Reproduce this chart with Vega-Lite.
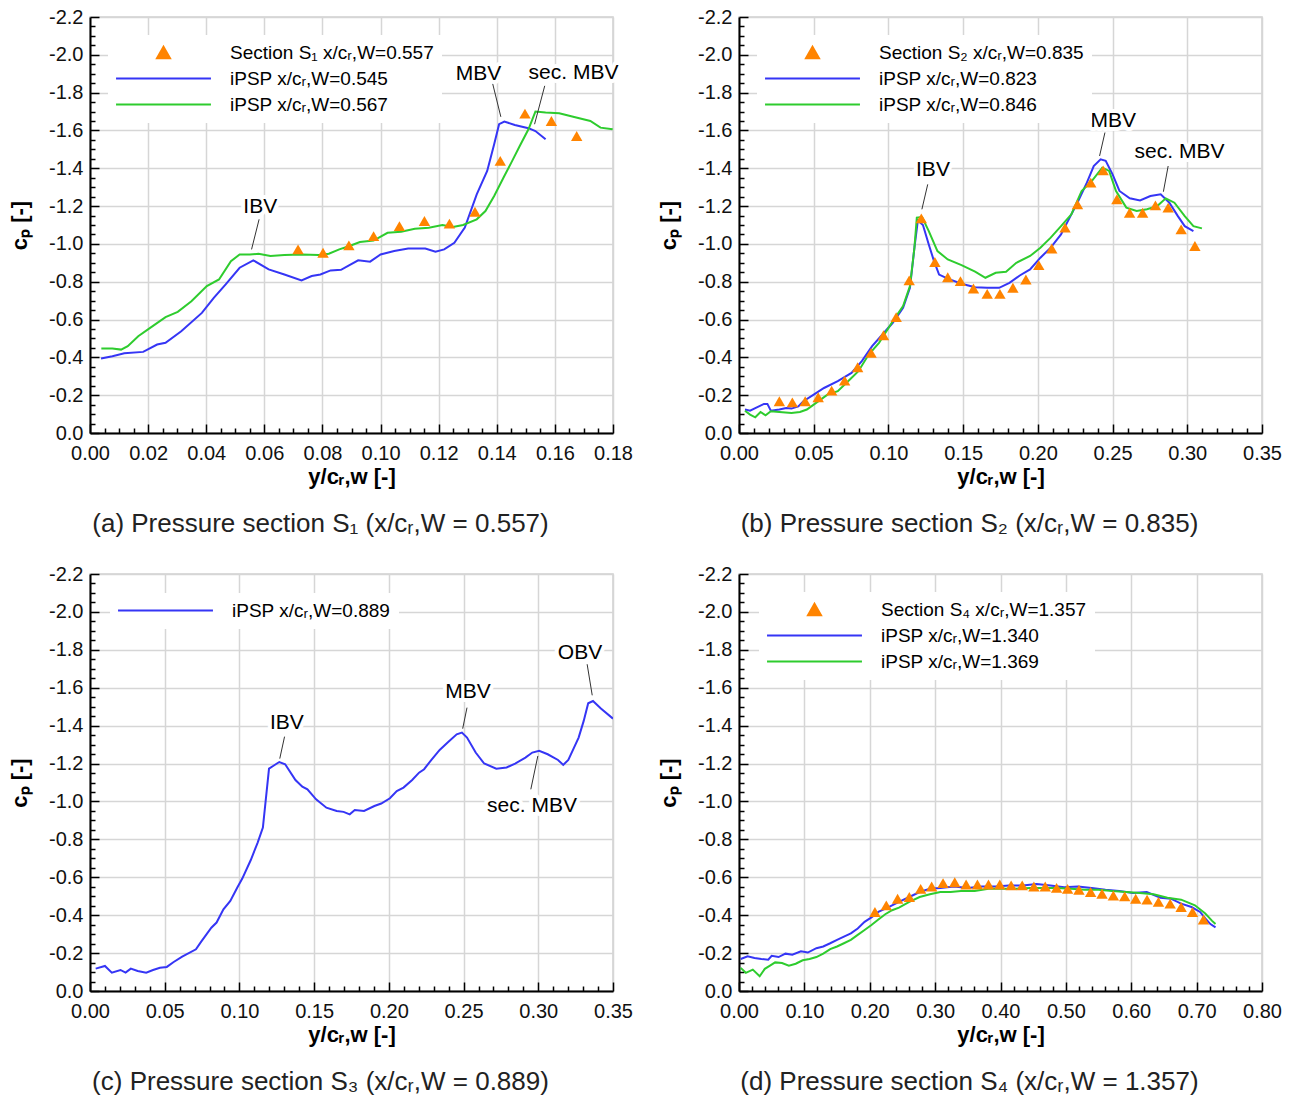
{
  "$schema": "https://vega.github.io/schema/vega-lite/v6.json",
  "background": "white",
  "padding": {"left": 7, "top": 6, "right": 0, "bottom": 0},
  "config": {
    "view": {"stroke": "#d0d0d0", "strokeWidth": 1.5},
    "axis": {
      "labelFont": "Liberation Sans", "labelFontSize": 20, "labelColor": "#111", "labelOverlap": false, "labelFlush": false,
      "titleFont": "Liberation Sans", "titleFontSize": 22, "titleFontWeight": "bold", "titleColor": "#000",
      "tickColor": "#000", "tickWidth": 1.5, "domainColor": "#000", "domainWidth": 2,
      "gridColor": "#d6d6d6", "gridWidth": 1.5
    },
    "title": {"font": "Liberation Sans", "fontSize": 26, "fontWeight": "normal", "color": "#222"},
    "legend": {"labelFont": "Liberation Sans", "labelFontSize": 19, "labelColor": "#000", "labelLimit": 500, "symbolSize": 170, "symbolStrokeWidth": 2, "labelOffset": 95, "rowPadding": 6, "padding": 8, "fillColor": "white", "orient": "none"}
  },
  "resolve": {"scale": {"color": "independent"}, "legend": {"color": "independent"}},
  "datasets": {
    "a_lines": [
      {"s":"B","x":0.0038,"y":-0.394},{"s":"B","x":0.0077,"y":-0.406},{"s":"B","x":0.0118,"y":-0.422},{"s":"B","x":0.0183,"y":-0.429},{"s":"B","x":0.0231,"y":-0.468},{"s":"B","x":0.026,"y":-0.477},{"s":"B","x":0.0314,"y":-0.538},{"s":"B","x":0.0385,"y":-0.635},{"s":"B","x":0.0426,"y":-0.715},{"s":"B","x":0.0467,"y":-0.786},{"s":"B","x":0.0515,"y":-0.874},{"s":"B","x":0.0562,"y":-0.913},{"s":"B","x":0.0615,"y":-0.865},{"s":"B","x":0.0669,"y":-0.838},{"s":"B","x":0.0728,"y":-0.807},{"s":"B","x":0.0763,"y":-0.83},{"s":"B","x":0.0793,"y":-0.838},{"s":"B","x":0.0828,"y":-0.86},{"s":"B","x":0.0864,"y":-0.863},{"s":"B","x":0.0893,"y":-0.888},{"s":"B","x":0.0923,"y":-0.913},{"s":"B","x":0.0964,"y":-0.906},{"s":"B","x":0.1,"y":-0.944},{"s":"B","x":0.1047,"y":-0.962},{"s":"B","x":0.1095,"y":-0.976},{"s":"B","x":0.1154,"y":-0.976},{"s":"B","x":0.1189,"y":-0.959},{"s":"B","x":0.1219,"y":-0.971},{"s":"B","x":0.1254,"y":-1.006},{"s":"B","x":0.129,"y":-1.086},{"s":"B","x":0.1331,"y":-1.262},{"s":"B","x":0.1367,"y":-1.386},{"s":"B","x":0.1391,"y":-1.527},{"s":"B","x":0.1408,"y":-1.633},{"s":"B","x":0.1426,"y":-1.647},{"s":"B","x":0.1462,"y":-1.629},{"s":"B","x":0.1509,"y":-1.612},{"s":"B","x":0.1533,"y":-1.597},{"s":"B","x":0.1568,"y":-1.553},
      {"s":"C","x":0.0039,"y":-0.447},{"s":"C","x":0.0077,"y":-0.447},{"s":"C","x":0.0107,"y":-0.441},{"s":"C","x":0.013,"y":-0.459},{"s":"C","x":0.0166,"y":-0.512},{"s":"C","x":0.0207,"y":-0.556},{"s":"C","x":0.026,"y":-0.613},{"s":"C","x":0.0302,"y":-0.641},{"s":"C","x":0.0349,"y":-0.697},{"s":"C","x":0.0402,"y":-0.777},{"s":"C","x":0.0444,"y":-0.812},{"s":"C","x":0.0485,"y":-0.909},{"s":"C","x":0.0515,"y":-0.944},{"s":"C","x":0.055,"y":-0.944},{"s":"C","x":0.058,"y":-0.948},{"s":"C","x":0.0621,"y":-0.936},{"s":"C","x":0.0669,"y":-0.941},{"s":"C","x":0.0728,"y":-0.944},{"s":"C","x":0.0787,"y":-0.941},{"s":"C","x":0.0822,"y":-0.948},{"s":"C","x":0.0858,"y":-0.971},{"s":"C","x":0.0893,"y":-0.989},{"s":"C","x":0.0929,"y":-1.01},{"s":"C","x":0.0976,"y":-1.018},{"s":"C","x":0.1024,"y":-1.059},{"s":"C","x":0.1071,"y":-1.064},{"s":"C","x":0.1118,"y":-1.08},{"s":"C","x":0.1166,"y":-1.086},{"s":"C","x":0.1213,"y":-1.1},{"s":"C","x":0.1249,"y":-1.089},{"s":"C","x":0.1284,"y":-1.1},{"s":"C","x":0.1331,"y":-1.13},{"s":"C","x":0.1361,"y":-1.174},{"s":"C","x":0.1391,"y":-1.253},{"s":"C","x":0.1426,"y":-1.359},{"s":"C","x":0.145,"y":-1.43},{"s":"C","x":0.1479,"y":-1.518},{"s":"C","x":0.1509,"y":-1.606},{"s":"C","x":0.1533,"y":-1.7},{"s":"C","x":0.1568,"y":-1.695},{"s":"C","x":0.1615,"y":-1.691},{"s":"C","x":0.1663,"y":-1.672},{"s":"C","x":0.1722,"y":-1.65},{"s":"C","x":0.1757,"y":-1.615},{"s":"C","x":0.1799,"y":-1.606}
    ],
    "a_pts": [
      {"s":"A","x":0.0716,"y":-0.971},{"s":"A","x":0.0802,"y":-0.953},{"s":"A","x":0.0891,"y":-0.992},{"s":"A","x":0.0976,"y":-1.041},{"s":"A","x":0.1065,"y":-1.094},{"s":"A","x":0.1151,"y":-1.121},{"s":"A","x":0.1237,"y":-1.107},{"s":"A","x":0.1325,"y":-1.17},{"s":"A","x":0.1412,"y":-1.439},{"s":"A","x":0.1497,"y":-1.689},{"s":"A","x":0.1588,"y":-1.65},{"s":"A","x":0.1675,"y":-1.571}
    ],
    "a_ann": [
      {"t":"IBV","x":0.0586,"y":-1.195},{"t":"MBV","x":0.1337,"y":-1.901},{"t":"sec. MBV","x":0.1664,"y":-1.905}
    ],
    "a_lead": [
      {"x":0.0582,"y":-1.13,"x2":0.0556,"y2":-0.971},{"x":0.1385,"y":-1.853,"x2":0.1414,"y2":-1.672},{"x":0.1565,"y":-1.836,"x2":0.153,"y2":-1.633}
    ],
    "b_lines": [
      {"s":"B","x":0.004,"y":-0.124},{"s":"B","x":0.0074,"y":-0.118},{"s":"B","x":0.0109,"y":-0.132},{"s":"B","x":0.0167,"y":-0.154},{"s":"B","x":0.019,"y":-0.154},{"s":"B","x":0.0213,"y":-0.118},{"s":"B","x":0.027,"y":-0.124},{"s":"B","x":0.0316,"y":-0.132},{"s":"B","x":0.0351,"y":-0.129},{"s":"B","x":0.0397,"y":-0.141},{"s":"B","x":0.0431,"y":-0.168},{"s":"B","x":0.05,"y":-0.203},{"s":"B","x":0.0569,"y":-0.238},{"s":"B","x":0.0661,"y":-0.274},{"s":"B","x":0.0753,"y":-0.318},{"s":"B","x":0.0822,"y":-0.38},{"s":"B","x":0.0891,"y":-0.459},{"s":"B","x":0.096,"y":-0.521},{"s":"B","x":0.1029,"y":-0.583},{"s":"B","x":0.1098,"y":-0.662},{"s":"B","x":0.1144,"y":-0.768},{"s":"B","x":0.1174,"y":-0.98},{"s":"B","x":0.1197,"y":-1.124},{"s":"B","x":0.1231,"y":-1.1},{"s":"B","x":0.127,"y":-0.997},{"s":"B","x":0.1305,"y":-0.909},{"s":"B","x":0.1339,"y":-0.838},{"s":"B","x":0.1397,"y":-0.816},{"s":"B","x":0.1489,"y":-0.789},{"s":"B","x":0.158,"y":-0.771},{"s":"B","x":0.1661,"y":-0.768},{"s":"B","x":0.1741,"y":-0.768},{"s":"B","x":0.181,"y":-0.794},{"s":"B","x":0.1879,"y":-0.833},{"s":"B","x":0.1948,"y":-0.865},{"s":"B","x":0.2017,"y":-0.927},{"s":"B","x":0.2086,"y":-0.98},{"s":"B","x":0.2155,"y":-1.05},{"s":"B","x":0.2213,"y":-1.139},{"s":"B","x":0.227,"y":-1.227},{"s":"B","x":0.2328,"y":-1.324},{"s":"B","x":0.2374,"y":-1.412},{"s":"B","x":0.242,"y":-1.447},{"s":"B","x":0.2454,"y":-1.439},{"s":"B","x":0.25,"y":-1.368},{"s":"B","x":0.2546,"y":-1.28},{"s":"B","x":0.2615,"y":-1.241},{"s":"B","x":0.2684,"y":-1.23},{"s":"B","x":0.2753,"y":-1.253},{"s":"B","x":0.2822,"y":-1.262},{"s":"B","x":0.288,"y":-1.218},{"s":"B","x":0.2937,"y":-1.147},{"s":"B","x":0.2983,"y":-1.094},{"s":"B","x":0.3041,"y":-1.068},
      {"s":"C","x":0.004,"y":-0.118},{"s":"C","x":0.0074,"y":-0.097},{"s":"C","x":0.0109,"y":-0.083},{"s":"C","x":0.0144,"y":-0.111},{"s":"C","x":0.0178,"y":-0.094},{"s":"C","x":0.0213,"y":-0.115},{"s":"C","x":0.027,"y":-0.111},{"s":"C","x":0.0351,"y":-0.106},{"s":"C","x":0.0408,"y":-0.111},{"s":"C","x":0.0454,"y":-0.124},{"s":"C","x":0.05,"y":-0.15},{"s":"C","x":0.0592,"y":-0.203},{"s":"C","x":0.0661,"y":-0.221},{"s":"C","x":0.073,"y":-0.274},{"s":"C","x":0.0799,"y":-0.327},{"s":"C","x":0.0868,"y":-0.415},{"s":"C","x":0.0937,"y":-0.477},{"s":"C","x":0.1029,"y":-0.591},{"s":"C","x":0.1098,"y":-0.671},{"s":"C","x":0.1144,"y":-0.777},{"s":"C","x":0.1174,"y":-0.98},{"s":"C","x":0.119,"y":-1.139},{"s":"C","x":0.1225,"y":-1.142},{"s":"C","x":0.127,"y":-1.068},{"s":"C","x":0.1328,"y":-0.962},{"s":"C","x":0.1397,"y":-0.918},{"s":"C","x":0.1489,"y":-0.888},{"s":"C","x":0.158,"y":-0.853},{"s":"C","x":0.1649,"y":-0.821},{"s":"C","x":0.1718,"y":-0.847},{"s":"C","x":0.1787,"y":-0.853},{"s":"C","x":0.1856,"y":-0.9},{"s":"C","x":0.1948,"y":-0.936},{"s":"C","x":0.2017,"y":-0.98},{"s":"C","x":0.2086,"y":-1.033},{"s":"C","x":0.2155,"y":-1.094},{"s":"C","x":0.2224,"y":-1.156},{"s":"C","x":0.2293,"y":-1.28},{"s":"C","x":0.2362,"y":-1.333},{"s":"C","x":0.2431,"y":-1.403},{"s":"C","x":0.2477,"y":-1.386},{"s":"C","x":0.2523,"y":-1.28},{"s":"C","x":0.2592,"y":-1.192},{"s":"C","x":0.2661,"y":-1.174},{"s":"C","x":0.273,"y":-1.183},{"s":"C","x":0.2799,"y":-1.2},{"s":"C","x":0.2856,"y":-1.241},{"s":"C","x":0.2914,"y":-1.218},{"s":"C","x":0.2983,"y":-1.147},{"s":"C","x":0.3041,"y":-1.094},{"s":"C","x":0.3098,"y":-1.082}
    ],
    "b_pts": [
      {"s":"A","x":0.027,"y":-0.168},{"s":"A","x":0.0357,"y":-0.162},{"s":"A","x":0.0443,"y":-0.168},{"s":"A","x":0.053,"y":-0.189},{"s":"A","x":0.062,"y":-0.224},{"s":"A","x":0.0707,"y":-0.277},{"s":"A","x":0.0794,"y":-0.348},{"s":"A","x":0.0884,"y":-0.424},{"s":"A","x":0.0967,"y":-0.517},{"s":"A","x":0.1052,"y":-0.613},{"s":"A","x":0.1139,"y":-0.807},{"s":"A","x":0.122,"y":-1.135},{"s":"A","x":0.1311,"y":-0.904},{"s":"A","x":0.1397,"y":-0.824},{"s":"A","x":0.1482,"y":-0.803},{"s":"A","x":0.1569,"y":-0.764},{"s":"A","x":0.1661,"y":-0.736},{"s":"A","x":0.1746,"y":-0.736},{"s":"A","x":0.1833,"y":-0.768},{"s":"A","x":0.192,"y":-0.812},{"s":"A","x":0.2006,"y":-0.888},{"s":"A","x":0.2093,"y":-0.976},{"s":"A","x":0.2182,"y":-1.086},{"s":"A","x":0.2265,"y":-1.209},{"s":"A","x":0.2354,"y":-1.324},{"s":"A","x":0.2437,"y":-1.389},{"s":"A","x":0.2529,"y":-1.236},{"s":"A","x":0.2614,"y":-1.165},{"s":"A","x":0.2701,"y":-1.165},{"s":"A","x":0.2787,"y":-1.204},{"s":"A","x":0.2872,"y":-1.192},{"s":"A","x":0.2959,"y":-1.077},{"s":"A","x":0.3051,"y":-0.989}
    ],
    "b_ann": [
      {"t":"IBV","x":0.1298,"y":-1.391},{"t":"MBV","x":0.2505,"y":-1.65},{"t":"sec. MBV","x":0.2948,"y":-1.485}
    ],
    "b_lead": [
      {"x":0.1263,"y":-1.315,"x2":0.1224,"y2":-1.183},{"x":0.2449,"y":-1.589,"x2":0.2413,"y2":-1.465},{"x":0.2872,"y":-1.412,"x2":0.284,"y2":-1.276}
    ],
    "c_lines": [
      {"s":"B","x":0.0038,"y":-0.118},{"s":"B","x":0.01,"y":-0.132},{"s":"B","x":0.0146,"y":-0.097},{"s":"B","x":0.0204,"y":-0.111},{"s":"B","x":0.0238,"y":-0.097},{"s":"B","x":0.0273,"y":-0.118},{"s":"B","x":0.0319,"y":-0.106},{"s":"B","x":0.0376,"y":-0.097},{"s":"B","x":0.0422,"y":-0.111},{"s":"B","x":0.0468,"y":-0.123},{"s":"B","x":0.0514,"y":-0.127},{"s":"B","x":0.056,"y":-0.153},{"s":"B","x":0.0617,"y":-0.181},{"s":"B","x":0.0709,"y":-0.22},{"s":"B","x":0.0743,"y":-0.259},{"s":"B","x":0.0812,"y":-0.334},{"s":"B","x":0.0847,"y":-0.361},{"s":"B","x":0.0893,"y":-0.431},{"s":"B","x":0.0939,"y":-0.475},{"s":"B","x":0.0985,"y":-0.545},{"s":"B","x":0.1019,"y":-0.593},{"s":"B","x":0.1076,"y":-0.691},{"s":"B","x":0.1122,"y":-0.783},{"s":"B","x":0.1157,"y":-0.862},{"s":"B","x":0.1198,"y":-1.173},{"s":"B","x":0.1233,"y":-1.191},{"s":"B","x":0.1267,"y":-1.208},{"s":"B","x":0.1306,"y":-1.196},{"s":"B","x":0.1375,"y":-1.113},{"s":"B","x":0.1421,"y":-1.078},{"s":"B","x":0.1455,"y":-1.064},{"s":"B","x":0.1513,"y":-1.011},{"s":"B","x":0.1582,"y":-0.967},{"s":"B","x":0.1651,"y":-0.95},{"s":"B","x":0.1697,"y":-0.945},{"s":"B","x":0.1738,"y":-0.932},{"s":"B","x":0.1772,"y":-0.955},{"s":"B","x":0.1834,"y":-0.95},{"s":"B","x":0.1903,"y":-0.976},{"s":"B","x":0.1949,"y":-0.989},{"s":"B","x":0.2007,"y":-1.017},{"s":"B","x":0.2053,"y":-1.055},{"s":"B","x":0.2098,"y":-1.073},{"s":"B","x":0.2156,"y":-1.113},{"s":"B","x":0.2202,"y":-1.152},{"s":"B","x":0.2236,"y":-1.17},{"s":"B","x":0.2282,"y":-1.217},{"s":"B","x":0.234,"y":-1.272},{"s":"B","x":0.2397,"y":-1.314},{"s":"B","x":0.2454,"y":-1.354},{"s":"B","x":0.2489,"y":-1.363},{"s":"B","x":0.2523,"y":-1.337},{"s":"B","x":0.2581,"y":-1.258},{"s":"B","x":0.2638,"y":-1.2},{"s":"B","x":0.2719,"y":-1.173},{"s":"B","x":0.2788,"y":-1.179},{"s":"B","x":0.2845,"y":-1.2},{"s":"B","x":0.2914,"y":-1.231},{"s":"B","x":0.296,"y":-1.258},{"s":"B","x":0.3006,"y":-1.267},{"s":"B","x":0.3063,"y":-1.249},{"s":"B","x":0.3132,"y":-1.219},{"s":"B","x":0.3167,"y":-1.193},{"s":"B","x":0.3201,"y":-1.219},{"s":"B","x":0.327,"y":-1.337},{"s":"B","x":0.3304,"y":-1.425},{"s":"B","x":0.3334,"y":-1.518},{"s":"B","x":0.3366,"y":-1.53},{"s":"B","x":0.3419,"y":-1.49},{"s":"B","x":0.35,"y":-1.437}
    ],
    "c_ann": [
      {"t":"IBV","x":0.1318,"y":-1.415},{"t":"MBV","x":0.253,"y":-1.576},{"t":"OBV","x":0.3279,"y":-1.783},{"t":"sec. MBV","x":0.2958,"y":-0.974}
    ],
    "c_lead": [
      {"x":0.1302,"y":-1.342,"x2":0.127,"y2":-1.226},{"x":0.2523,"y":-1.495,"x2":0.2494,"y2":-1.384},{"x":0.3327,"y":-1.724,"x2":0.3361,"y2":-1.56},{"x":0.295,"y":-1.064,"x2":0.2997,"y2":-1.24}
    ],
    "d_lines": [
      {"s":"B","x":0.0026,"y":-0.169},{"s":"B","x":0.0132,"y":-0.183},{"s":"B","x":0.0237,"y":-0.174},{"s":"B","x":0.0342,"y":-0.169},{"s":"B","x":0.0447,"y":-0.165},{"s":"B","x":0.05,"y":-0.186},{"s":"B","x":0.0605,"y":-0.179},{"s":"B","x":0.0711,"y":-0.197},{"s":"B","x":0.0816,"y":-0.191},{"s":"B","x":0.0947,"y":-0.209},{"s":"B","x":0.1053,"y":-0.203},{"s":"B","x":0.1184,"y":-0.226},{"s":"B","x":0.1289,"y":-0.235},{"s":"B","x":0.1395,"y":-0.252},{"s":"B","x":0.15,"y":-0.27},{"s":"B","x":0.1605,"y":-0.287},{"s":"B","x":0.1711,"y":-0.304},{"s":"B","x":0.1816,"y":-0.33},{"s":"B","x":0.1921,"y":-0.365},{"s":"B","x":0.2026,"y":-0.388},{"s":"B","x":0.2132,"y":-0.417},{"s":"B","x":0.2289,"y":-0.443},{"s":"B","x":0.2447,"y":-0.47},{"s":"B","x":0.2605,"y":-0.496},{"s":"B","x":0.2763,"y":-0.522},{"s":"B","x":0.2921,"y":-0.539},{"s":"B","x":0.3079,"y":-0.544},{"s":"B","x":0.3289,"y":-0.551},{"s":"B","x":0.35,"y":-0.544},{"s":"B","x":0.371,"y":-0.551},{"s":"B","x":0.3921,"y":-0.551},{"s":"B","x":0.4132,"y":-0.557},{"s":"B","x":0.4342,"y":-0.557},{"s":"B","x":0.4553,"y":-0.565},{"s":"B","x":0.4763,"y":-0.557},{"s":"B","x":0.4974,"y":-0.548},{"s":"B","x":0.5184,"y":-0.551},{"s":"B","x":0.5395,"y":-0.544},{"s":"B","x":0.5605,"y":-0.534},{"s":"B","x":0.5816,"y":-0.527},{"s":"B","x":0.6026,"y":-0.517},{"s":"B","x":0.6237,"y":-0.522},{"s":"B","x":0.6447,"y":-0.492},{"s":"B","x":0.6605,"y":-0.487},{"s":"B","x":0.6763,"y":-0.461},{"s":"B","x":0.6921,"y":-0.443},{"s":"B","x":0.7053,"y":-0.417},{"s":"B","x":0.7132,"y":-0.383},{"s":"B","x":0.7211,"y":-0.353},{"s":"B","x":0.7289,"y":-0.336},
      {"s":"C","x":0.0026,"y":-0.122},{"s":"C","x":0.0105,"y":-0.096},{"s":"C","x":0.0211,"y":-0.113},{"s":"C","x":0.0316,"y":-0.078},{"s":"C","x":0.0395,"y":-0.117},{"s":"C","x":0.0474,"y":-0.134},{"s":"C","x":0.0553,"y":-0.151},{"s":"C","x":0.0658,"y":-0.148},{"s":"C","x":0.0763,"y":-0.134},{"s":"C","x":0.0868,"y":-0.144},{"s":"C","x":0.0974,"y":-0.162},{"s":"C","x":0.1079,"y":-0.169},{"s":"C","x":0.1184,"y":-0.179},{"s":"C","x":0.1289,"y":-0.197},{"s":"C","x":0.1395,"y":-0.221},{"s":"C","x":0.15,"y":-0.235},{"s":"C","x":0.1605,"y":-0.252},{"s":"C","x":0.1711,"y":-0.27},{"s":"C","x":0.1816,"y":-0.296},{"s":"C","x":0.1921,"y":-0.322},{"s":"C","x":0.2026,"y":-0.348},{"s":"C","x":0.2132,"y":-0.377},{"s":"C","x":0.2237,"y":-0.405},{"s":"C","x":0.2342,"y":-0.426},{"s":"C","x":0.2447,"y":-0.44},{"s":"C","x":0.2605,"y":-0.47},{"s":"C","x":0.2763,"y":-0.496},{"s":"C","x":0.2921,"y":-0.51},{"s":"C","x":0.3079,"y":-0.522},{"s":"C","x":0.3237,"y":-0.522},{"s":"C","x":0.3395,"y":-0.527},{"s":"C","x":0.3605,"y":-0.527},{"s":"C","x":0.3816,"y":-0.539},{"s":"C","x":0.4026,"y":-0.539},{"s":"C","x":0.4237,"y":-0.539},{"s":"C","x":0.4447,"y":-0.544},{"s":"C","x":0.4658,"y":-0.544},{"s":"C","x":0.4868,"y":-0.544},{"s":"C","x":0.5079,"y":-0.539},{"s":"C","x":0.5289,"y":-0.534},{"s":"C","x":0.55,"y":-0.534},{"s":"C","x":0.5711,"y":-0.527},{"s":"C","x":0.5921,"y":-0.522},{"s":"C","x":0.6132,"y":-0.517},{"s":"C","x":0.6342,"y":-0.51},{"s":"C","x":0.6553,"y":-0.492},{"s":"C","x":0.6763,"y":-0.482},{"s":"C","x":0.6974,"y":-0.452},{"s":"C","x":0.7132,"y":-0.409},{"s":"C","x":0.7237,"y":-0.37},{"s":"C","x":0.7289,"y":-0.353}
    ],
    "d_pts": [
      {"s":"A","x":0.2079,"y":-0.417},{"s":"A","x":0.2253,"y":-0.452},{"s":"A","x":0.2426,"y":-0.487},{"s":"A","x":0.2605,"y":-0.496},{"s":"A","x":0.2779,"y":-0.539},{"s":"A","x":0.2947,"y":-0.551},{"s":"A","x":0.3121,"y":-0.569},{"s":"A","x":0.33,"y":-0.574},{"s":"A","x":0.3474,"y":-0.562},{"s":"A","x":0.3647,"y":-0.562},{"s":"A","x":0.3816,"y":-0.562},{"s":"A","x":0.3989,"y":-0.562},{"s":"A","x":0.4163,"y":-0.557},{"s":"A","x":0.4332,"y":-0.557},{"s":"A","x":0.4511,"y":-0.551},{"s":"A","x":0.4684,"y":-0.551},{"s":"A","x":0.4858,"y":-0.544},{"s":"A","x":0.5026,"y":-0.539},{"s":"A","x":0.52,"y":-0.534},{"s":"A","x":0.5379,"y":-0.522},{"s":"A","x":0.5553,"y":-0.513},{"s":"A","x":0.5726,"y":-0.504},{"s":"A","x":0.59,"y":-0.499},{"s":"A","x":0.6068,"y":-0.487},{"s":"A","x":0.6242,"y":-0.482},{"s":"A","x":0.6416,"y":-0.47},{"s":"A","x":0.6595,"y":-0.461},{"s":"A","x":0.6763,"y":-0.443},{"s":"A","x":0.6937,"y":-0.417},{"s":"A","x":0.7105,"y":-0.377}
    ]
  },
  "columns": 2,
  "spacing": {"row": 25, "column": 22},
  "concat": [
    {
      "width": 523, "height": 416,
      "title": {"text": "(a) Pressure section S₁ (x/cᵣ,W = 0.557)", "orient": "bottom", "frame": "bounds", "anchor": "middle", "offset": 24},
      "layer": [
        {
          "data": {"name": "a_lines"},
          "mark": {"type": "line", "strokeWidth": 2, "clip": true},
          "encoding": {
            "x": {"field": "x", "type": "quantitative", "scale": {"domain": [0, 0.18], "nice": false, "zero": false},
                  "axis": {"orient": "bottom", "values": [0,0.02,0.04,0.06,0.08,0.1,0.12,0.14,0.16,0.18], "format": ".2f", "grid": true, "tickSize": -9, "labelPadding": 19, "title": "y/cᵣ,w [-]", "titlePadding": 3}},
            "y": {"field": "y", "type": "quantitative", "scale": {"domain": [-2.2, 0], "nice": false, "zero": false, "reverse": true},
                  "axis": {"orient": "left", "values": [-2.2,-2,-1.8,-1.6,-1.4,-1.2,-1,-0.8,-0.6,-0.4,-0.2,0], "labelExpr": "(datum.value < -0.001 ? '-' : '') + format(abs(datum.value), '.1f')", "grid": true, "tickSize": -9, "labelPadding": 16, "title": "cₚ [-]", "titlePadding": 17}},
            "color": {"field": "s", "type": "nominal", "scale": {"domain": ["A","B","C"], "range": ["#ff8400","#3535f5","#2ecc2e"]},
                      "legend": {"orient": "none", "legendX": 18, "legendY": 18, "title": null,
                                 "labelExpr": "datum.label == 'A' ? 'Section S₁ x/cᵣ,W=0.557' : datum.label == 'B' ? 'iPSP x/cᵣ,W=0.545' : 'iPSP x/cᵣ,W=0.567'",
                                 "encode": {"symbols": {"update": {"x": {"value": 47.5}, "size": {"value": 170}, "shape": {"signal": "datum.index === 0 ? 'triangle-up' : 'M-7.28,0H7.28'"}, "stroke": {"signal": "datum.index === 0 ? '#ff8400' : datum.index === 1 ? '#3535f5' : '#2ecc2e'"}, "fill": {"signal": "datum.index === 0 ? '#ff8400' : 'transparent'"}, "strokeWidth": {"value": 2}, "opacity": {"value": 1}}}}}}
          }
        },
        {
          "data": {"name": "a_pts"},
          "mark": {"type": "point", "shape": "triangle-up", "filled": true, "size": 130, "opacity": 1},
          "encoding": {
            "x": {"field": "x", "type": "quantitative", "scale": {"domain": [0, 0.18], "nice": false, "zero": false},
                  "axis": {"orient": "bottom", "values": [0.005,0.01,0.015,0.025,0.03,0.035,0.045,0.05,0.055,0.065,0.07,0.075,0.085,0.09,0.095,0.105,0.11,0.115,0.125,0.13,0.135,0.145,0.15,0.155,0.165,0.17,0.175], "labels": false, "grid": false, "domain": false, "tickSize": -5, "title": null}},
            "y": {"field": "y", "type": "quantitative", "scale": {"domain": [-2.2, 0], "nice": false, "zero": false, "reverse": true},
                  "axis": {"orient": "left", "values": [-2.15,-2.1,-2.05,-1.95,-1.9,-1.85,-1.75,-1.7,-1.65,-1.55,-1.5,-1.45,-1.35,-1.3,-1.25,-1.15,-1.1,-1.05,-0.95,-0.9,-0.85,-0.75,-0.7,-0.65,-0.55,-0.5,-0.45,-0.35,-0.3,-0.25,-0.15,-0.1,-0.05], "labels": false, "grid": false, "domain": false, "tickSize": -5, "title": null}},
            "color": {"field": "s", "type": "nominal"}
          }
        },
        {
          "data": {"name": "a_lead"},
          "mark": {"type": "rule", "color": "#333", "strokeWidth": 1},
          "encoding": {
            "x": {"field": "x", "type": "quantitative", "axis": null}, "y": {"field": "y", "type": "quantitative", "axis": null},
            "x2": {"field": "x2"}, "y2": {"field": "y2"}
          }
        },
        {
          "data": {"name": "a_ann"},
          "mark": {"type": "text", "font": "Liberation Sans", "fontSize": 21, "stroke": "white", "strokeWidth": 8, "strokeJoin": "round", "fill": "white"},
          "encoding": {"x": {"field": "x", "type": "quantitative", "axis": null}, "y": {"field": "y", "type": "quantitative", "axis": null}, "text": {"field": "t"}}
        },
        {
          "data": {"name": "a_ann"},
          "mark": {"type": "text", "font": "Liberation Sans", "fontSize": 21, "color": "#000"},
          "encoding": {"x": {"field": "x", "type": "quantitative", "axis": null}, "y": {"field": "y", "type": "quantitative", "axis": null}, "text": {"field": "t"}}
        }
      ],
      "resolve": {"axis": {"x": "independent", "y": "independent"}}
    },
    {
      "width": 523, "height": 416,
      "title": {"text": "(b) Pressure section S₂ (x/cᵣ,W = 0.835)", "orient": "bottom", "frame": "bounds", "anchor": "middle", "offset": 24},
      "layer": [
        {
          "data": {"name": "b_lines"},
          "mark": {"type": "line", "strokeWidth": 2, "clip": true},
          "encoding": {
            "x": {"field": "x", "type": "quantitative", "scale": {"domain": [0, 0.35], "nice": false, "zero": false},
                  "axis": {"orient": "bottom", "values": [0,0.05,0.1,0.15,0.2,0.25,0.3,0.35], "format": ".2f", "grid": true, "tickSize": -9, "labelPadding": 19, "title": "y/cᵣ,w [-]", "titlePadding": 3}},
            "y": {"field": "y", "type": "quantitative", "scale": {"domain": [-2.2, 0], "nice": false, "zero": false, "reverse": true},
                  "axis": {"orient": "left", "values": [-2.2,-2,-1.8,-1.6,-1.4,-1.2,-1,-0.8,-0.6,-0.4,-0.2,0], "labelExpr": "(datum.value < -0.001 ? '-' : '') + format(abs(datum.value), '.1f')", "grid": true, "tickSize": -9, "labelPadding": 16, "title": "cₚ [-]", "titlePadding": 17}},
            "color": {"field": "s", "type": "nominal", "scale": {"domain": ["A","B","C"], "range": ["#ff8400","#3535f5","#2ecc2e"]},
                      "legend": {"orient": "none", "legendX": 18, "legendY": 18, "title": null,
                                 "labelExpr": "datum.label == 'A' ? 'Section S₂ x/cᵣ,W=0.835' : datum.label == 'B' ? 'iPSP x/cᵣ,W=0.823' : 'iPSP x/cᵣ,W=0.846'",
                                 "encode": {"symbols": {"update": {"x": {"value": 47.5}, "size": {"value": 170}, "shape": {"signal": "datum.index === 0 ? 'triangle-up' : 'M-7.28,0H7.28'"}, "stroke": {"signal": "datum.index === 0 ? '#ff8400' : datum.index === 1 ? '#3535f5' : '#2ecc2e'"}, "fill": {"signal": "datum.index === 0 ? '#ff8400' : 'transparent'"}, "strokeWidth": {"value": 2}, "opacity": {"value": 1}}}}}}
          }
        },
        {
          "data": {"name": "b_pts"},
          "mark": {"type": "point", "shape": "triangle-up", "filled": true, "size": 130, "opacity": 1},
          "encoding": {
            "x": {"field": "x", "type": "quantitative", "scale": {"domain": [0, 0.35], "nice": false, "zero": false},
                  "axis": {"orient": "bottom", "values": [0.01,0.02,0.03,0.04,0.06,0.07,0.08,0.09,0.11,0.12,0.13,0.14,0.16,0.17,0.18,0.19,0.21,0.22,0.23,0.24,0.26,0.27,0.28,0.29,0.31,0.32,0.33,0.34], "labels": false, "grid": false, "domain": false, "tickSize": -5, "title": null}},
            "y": {"field": "y", "type": "quantitative", "scale": {"domain": [-2.2, 0], "nice": false, "zero": false, "reverse": true},
                  "axis": {"orient": "left", "values": [-2.15,-2.1,-2.05,-1.95,-1.9,-1.85,-1.75,-1.7,-1.65,-1.55,-1.5,-1.45,-1.35,-1.3,-1.25,-1.15,-1.1,-1.05,-0.95,-0.9,-0.85,-0.75,-0.7,-0.65,-0.55,-0.5,-0.45,-0.35,-0.3,-0.25,-0.15,-0.1,-0.05], "labels": false, "grid": false, "domain": false, "tickSize": -5, "title": null}},
            "color": {"field": "s", "type": "nominal"}
          }
        },
        {
          "data": {"name": "b_lead"},
          "mark": {"type": "rule", "color": "#333", "strokeWidth": 1},
          "encoding": {
            "x": {"field": "x", "type": "quantitative", "axis": null}, "y": {"field": "y", "type": "quantitative", "axis": null},
            "x2": {"field": "x2"}, "y2": {"field": "y2"}
          }
        },
        {
          "data": {"name": "b_ann"},
          "mark": {"type": "text", "font": "Liberation Sans", "fontSize": 21, "stroke": "white", "strokeWidth": 8, "strokeJoin": "round", "fill": "white"},
          "encoding": {"x": {"field": "x", "type": "quantitative", "axis": null}, "y": {"field": "y", "type": "quantitative", "axis": null}, "text": {"field": "t"}}
        },
        {
          "data": {"name": "b_ann"},
          "mark": {"type": "text", "font": "Liberation Sans", "fontSize": 21, "color": "#000"},
          "encoding": {"x": {"field": "x", "type": "quantitative", "axis": null}, "y": {"field": "y", "type": "quantitative", "axis": null}, "text": {"field": "t"}}
        }
      ],
      "resolve": {"axis": {"x": "independent", "y": "independent"}}
    },
    {
      "width": 523, "height": 417,
      "title": {"text": "(c) Pressure section S₃ (x/cᵣ,W = 0.889)", "orient": "bottom", "frame": "bounds", "anchor": "middle", "offset": 24},
      "layer": [
        {
          "data": {"name": "c_lines"},
          "mark": {"type": "line", "strokeWidth": 2, "clip": true},
          "encoding": {
            "x": {"field": "x", "type": "quantitative", "scale": {"domain": [0, 0.35], "nice": false, "zero": false},
                  "axis": {"orient": "bottom", "values": [0,0.05,0.1,0.15,0.2,0.25,0.3,0.35], "format": ".2f", "grid": true, "tickSize": -9, "labelPadding": 19, "title": "y/cᵣ,w [-]", "titlePadding": 3}},
            "y": {"field": "y", "type": "quantitative", "scale": {"domain": [-2.2, 0], "nice": false, "zero": false, "reverse": true},
                  "axis": {"orient": "left", "values": [-2.2,-2,-1.8,-1.6,-1.4,-1.2,-1,-0.8,-0.6,-0.4,-0.2,0], "labelExpr": "(datum.value < -0.001 ? '-' : '') + format(abs(datum.value), '.1f')", "grid": true, "tickSize": -9, "labelPadding": 16, "title": "cₚ [-]", "titlePadding": 17}},
            "color": {"field": "s", "type": "nominal", "scale": {"domain": ["B"], "range": ["#3535f5"]},
                      "legend": {"orient": "none", "legendX": 20, "legendY": 19, "title": null,
                                 "labelExpr": "'iPSP x/cᵣ,W=0.889'",
                                 "encode": {"symbols": {"update": {"x": {"value": 47.5}, "size": {"value": 170}, "shape": {"value": "M-7.28,0H7.28"}, "stroke": {"value": "#3535f5"}, "fill": {"value": "transparent"}, "strokeWidth": {"value": 2}, "opacity": {"value": 1}}}}}}
          }
        },
        {
          "data": {"name": "c_lead"},
          "mark": {"type": "rule", "color": "#333", "strokeWidth": 1},
          "encoding": {
            "x": {"field": "x", "type": "quantitative", "scale": {"domain": [0, 0.35], "nice": false, "zero": false},
                  "axis": {"orient": "bottom", "values": [0.01,0.02,0.03,0.04,0.06,0.07,0.08,0.09,0.11,0.12,0.13,0.14,0.16,0.17,0.18,0.19,0.21,0.22,0.23,0.24,0.26,0.27,0.28,0.29,0.31,0.32,0.33,0.34], "labels": false, "grid": false, "domain": false, "tickSize": -5, "title": null}},
            "y": {"field": "y", "type": "quantitative", "scale": {"domain": [-2.2, 0], "nice": false, "zero": false, "reverse": true},
                  "axis": {"orient": "left", "values": [-2.15,-2.1,-2.05,-1.95,-1.9,-1.85,-1.75,-1.7,-1.65,-1.55,-1.5,-1.45,-1.35,-1.3,-1.25,-1.15,-1.1,-1.05,-0.95,-0.9,-0.85,-0.75,-0.7,-0.65,-0.55,-0.5,-0.45,-0.35,-0.3,-0.25,-0.15,-0.1,-0.05], "labels": false, "grid": false, "domain": false, "tickSize": -5, "title": null}},
            "x2": {"field": "x2"}, "y2": {"field": "y2"}
          }
        },
        {
          "data": {"name": "c_ann"},
          "mark": {"type": "text", "font": "Liberation Sans", "fontSize": 21, "stroke": "white", "strokeWidth": 8, "strokeJoin": "round", "fill": "white"},
          "encoding": {"x": {"field": "x", "type": "quantitative", "axis": null}, "y": {"field": "y", "type": "quantitative", "axis": null}, "text": {"field": "t"}}
        },
        {
          "data": {"name": "c_ann"},
          "mark": {"type": "text", "font": "Liberation Sans", "fontSize": 21, "color": "#000"},
          "encoding": {"x": {"field": "x", "type": "quantitative", "axis": null}, "y": {"field": "y", "type": "quantitative", "axis": null}, "text": {"field": "t"}}
        }
      ],
      "resolve": {"axis": {"x": "independent", "y": "independent"}}
    },
    {
      "width": 523, "height": 417,
      "title": {"text": "(d) Pressure section S₄ (x/cᵣ,W = 1.357)", "orient": "bottom", "frame": "bounds", "anchor": "middle", "offset": 24},
      "layer": [
        {
          "data": {"name": "d_lines"},
          "mark": {"type": "line", "strokeWidth": 2, "clip": true},
          "encoding": {
            "x": {"field": "x", "type": "quantitative", "scale": {"domain": [0, 0.8], "nice": false, "zero": false},
                  "axis": {"orient": "bottom", "values": [0,0.1,0.2,0.3,0.4,0.5,0.6,0.7,0.8], "format": ".2f", "grid": true, "tickSize": -9, "labelPadding": 19, "title": "y/cᵣ,w [-]", "titlePadding": 3}},
            "y": {"field": "y", "type": "quantitative", "scale": {"domain": [-2.2, 0], "nice": false, "zero": false, "reverse": true},
                  "axis": {"orient": "left", "values": [-2.2,-2,-1.8,-1.6,-1.4,-1.2,-1,-0.8,-0.6,-0.4,-0.2,0], "labelExpr": "(datum.value < -0.001 ? '-' : '') + format(abs(datum.value), '.1f')", "grid": true, "tickSize": -9, "labelPadding": 16, "title": "cₚ [-]", "titlePadding": 17}},
            "color": {"field": "s", "type": "nominal", "scale": {"domain": ["A","B","C"], "range": ["#ff8400","#3535f5","#2ecc2e"]},
                      "legend": {"orient": "none", "legendX": 20, "legendY": 18, "title": null,
                                 "labelExpr": "datum.label == 'A' ? 'Section S₄ x/cᵣ,W=1.357' : datum.label == 'B' ? 'iPSP x/cᵣ,W=1.340' : 'iPSP x/cᵣ,W=1.369'",
                                 "encode": {"symbols": {"update": {"x": {"value": 47.5}, "size": {"value": 170}, "shape": {"signal": "datum.index === 0 ? 'triangle-up' : 'M-7.28,0H7.28'"}, "stroke": {"signal": "datum.index === 0 ? '#ff8400' : datum.index === 1 ? '#3535f5' : '#2ecc2e'"}, "fill": {"signal": "datum.index === 0 ? '#ff8400' : 'transparent'"}, "strokeWidth": {"value": 2}, "opacity": {"value": 1}}}}}}
          }
        },
        {
          "data": {"name": "d_pts"},
          "mark": {"type": "point", "shape": "triangle-up", "filled": true, "size": 130, "opacity": 1},
          "encoding": {
            "x": {"field": "x", "type": "quantitative", "scale": {"domain": [0, 0.8], "nice": false, "zero": false},
                  "axis": {"orient": "bottom", "values": [0.02,0.04,0.06,0.08,0.12,0.14,0.16,0.18,0.22,0.24,0.26,0.28,0.32,0.34,0.36,0.38,0.42,0.44,0.46,0.48,0.52,0.54,0.56,0.58,0.62,0.64,0.66,0.68,0.72,0.74,0.76,0.78], "labels": false, "grid": false, "domain": false, "tickSize": -5, "title": null}},
            "y": {"field": "y", "type": "quantitative", "scale": {"domain": [-2.2, 0], "nice": false, "zero": false, "reverse": true},
                  "axis": {"orient": "left", "values": [-2.15,-2.1,-2.05,-1.95,-1.9,-1.85,-1.75,-1.7,-1.65,-1.55,-1.5,-1.45,-1.35,-1.3,-1.25,-1.15,-1.1,-1.05,-0.95,-0.9,-0.85,-0.75,-0.7,-0.65,-0.55,-0.5,-0.45,-0.35,-0.3,-0.25,-0.15,-0.1,-0.05], "labels": false, "grid": false, "domain": false, "tickSize": -5, "title": null}},
            "color": {"field": "s", "type": "nominal"}
          }
        }
      ],
      "resolve": {"axis": {"x": "independent", "y": "independent"}}
    }
  ]
}
